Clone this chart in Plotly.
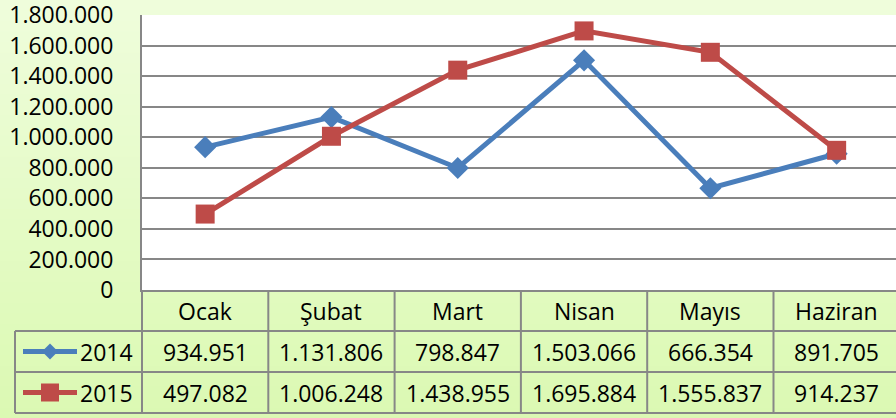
import plotly.graph_objects as go

months = ['Ocak', 'Şubat', 'Mart', 'Nisan', 'Mayıs', 'Haziran']
years = ['2014', '2015']
v2014 = [934951, 1131806, 798847, 1503066, 666354, 891705]
v2015 = [497082, 1006248, 1438955, 1695884, 1555837, 914237]
y_ticks = list(range(0, 1800001, 200000))

W, H = 896, 418
FONT = 'Open Sans'
FS = 23
GRID = '#878787'
colors = ['#4a7ebb', '#be4b48']
symbols = ['diamond', 'square']
sizes = [17, 19]

# plot area / table geometry in pixels
left, top, bottom = 142, 15, 290
col_w = 126.3
key_x0 = 15
row_h = [290, 331, 372, 413]


def px(x):
    return x / W


def py(y):
    return 1 - y / H


fig = go.Figure()
series = [v2014, v2015]
for i, (name, vals) in enumerate(zip(years, series)):
    fig.add_trace(go.Scatter(
        x=list(range(len(months))), y=vals, name=name, mode='lines+markers',
        line=dict(color=colors[i], width=5),
        marker=dict(symbol=symbols[i], size=sizes[i], color=colors[i]),
        showlegend=False, cliponaxis=False, hoverinfo='skip',
    ))

shapes = []
# background gradient bands
top_c, bot_c = (0xef, 0xfd, 0xdb), (0xdb, 0xf9, 0xb3)
n = 40
for k in range(n):
    t = k / (n - 1)
    c = tuple(round(a + (b - a) * t) for a, b in zip(top_c, bot_c))
    shapes.append(dict(type='rect', xref='paper', yref='paper', layer='below',
                       x0=0, x1=1, y0=max(0, 1 - (k + 1) / n - 0.002), y1=1 - k / n,
                       fillcolor='rgb(%d,%d,%d)' % c, line=dict(width=0)))
# white plot area
shapes.append(dict(type='rect', xref='paper', yref='paper', layer='below',
                   x0=px(left), x1=1, y0=py(bottom), y1=py(top),
                   fillcolor='white', line=dict(width=0)))

line_style = dict(color=GRID, width=2)
# table horizontal lines
for y in row_h[1:]:
    shapes.append(dict(type='line', xref='paper', yref='paper',
                       x0=px(key_x0), x1=1, y0=py(y), y1=py(y), line=line_style))
# table vertical lines
for c in range(len(months)):
    x = left + c * col_w
    shapes.append(dict(type='line', xref='paper', yref='paper',
                       x0=px(x), x1=px(x), y0=py(row_h[0]), y1=py(row_h[-1]), line=line_style))
shapes.append(dict(type='line', xref='paper', yref='paper',
                   x0=px(key_x0), x1=px(key_x0), y0=py(row_h[1]), y1=py(row_h[-1]), line=line_style))

txt_font = dict(family=FONT, size=FS, color='black')
annotations = []
for c, m in enumerate(months):
    annotations.append(dict(x=px(left + (c + 0.5) * col_w), y=py((row_h[0] + row_h[1]) / 2),
                            xref='paper', yref='paper', text=m, showarrow=False,
                            xanchor='center', yanchor='middle', font=txt_font))


def fmt(v):
    return f'{v:,}'.replace(',', '.')


for r, (name, vals) in enumerate(zip(years, series)):
    yc = (row_h[r + 1] + row_h[r + 2]) / 2
    for c, v in enumerate(vals):
        annotations.append(dict(x=px(left + (c + 0.5) * col_w), y=py(yc),
                                xref='paper', yref='paper', text=fmt(v), showarrow=False,
                                xanchor='center', yanchor='middle', font=txt_font))
    annotations.append(dict(x=px(135), y=py(yc), xref='paper', yref='paper', text=name,
                            xanchor='right', yanchor='middle', showarrow=False, font=txt_font))
    # legend key line
    shapes.append(dict(type='line', xref='paper', yref='paper', x0=px(23), x1=px(77),
                       y0=py(yc), y1=py(yc), line=dict(color=colors[r], width=5)))
    cx = 50
    if symbols[r] == 'diamond':
        d = 8
        path = 'M %f %f L %f %f L %f %f L %f %f Z' % (
            px(cx - d), py(yc), px(cx), py(yc - d), px(cx + d), py(yc), px(cx), py(yc + d))
        shapes.append(dict(type='path', xref='paper', yref='paper', path=path,
                           fillcolor=colors[r], line=dict(width=0)))
    else:
        d = 9
        shapes.append(dict(type='rect', xref='paper', yref='paper',
                           x0=px(cx - d), x1=px(cx + d), y0=py(yc + d), y1=py(yc - d),
                           fillcolor=colors[r], line=dict(width=0)))

x_end = -0.5 + (W - left) / col_w
fig.update_layout(
    width=W, height=H,
    margin=dict(l=0, r=0, t=0, b=0, pad=0, autoexpand=False),
    paper_bgcolor='#e4fbc6', plot_bgcolor='rgba(0,0,0,0)',
    separators=',.',
    font=dict(family=FONT, size=FS, color='black'),
    xaxis=dict(domain=[px(left), 1], range=[-0.5, x_end], showticklabels=False,
               showgrid=False, zeroline=False, showline=True, linecolor=GRID,
               linewidth=2, fixedrange=True, automargin=False),
    yaxis=dict(domain=[py(bottom), py(top)], range=[0, 1800000], tickvals=y_ticks,
               tickformat=',d', showgrid=True, gridcolor=GRID, gridwidth=2,
               zeroline=False, showline=True, linecolor=GRID, linewidth=2,
               ticks='', ticklabelstandoff=22, automargin=False, fixedrange=True,
               ticklabeloverflow='allow', tickfont=txt_font),
    shapes=shapes, annotations=annotations,
)

fig.write_html('out.html', config={'displayModeBar': False},
               post_script="document.body.style.margin='0';")
